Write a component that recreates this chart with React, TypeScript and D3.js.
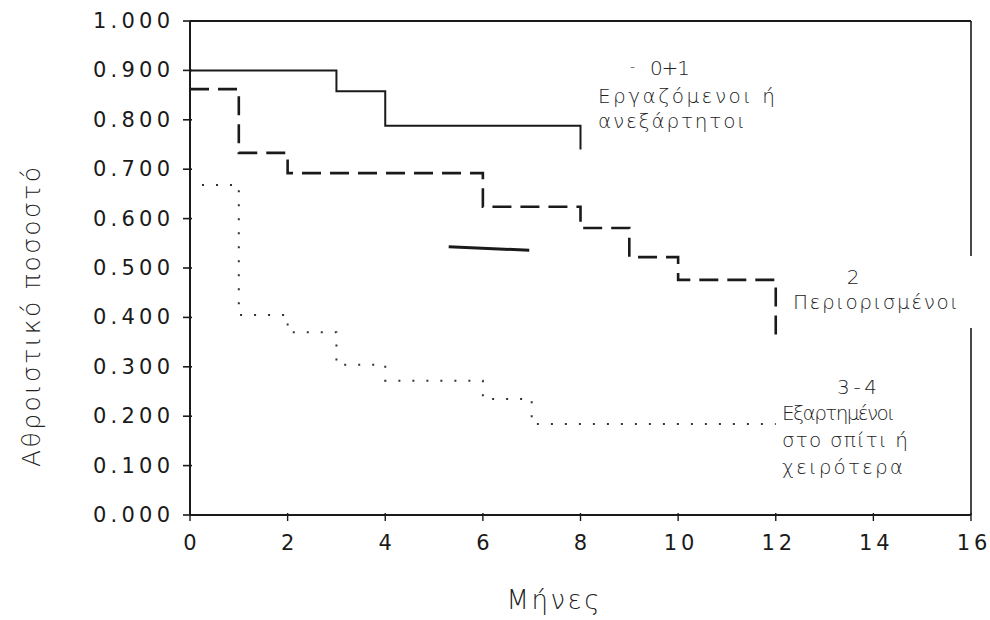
import React from "react";
import * as d3 from "d3";

// Months (x axis) ticks and cumulative proportion (y axis) ticks
const monthTicks = [0, 2, 4, 6, 8, 10, 12, 14, 16];
const propTicks = [0, 0.1, 0.2, 0.3, 0.4, 0.5, 0.6, 0.7, 0.8, 0.9, 1.0];

// Group 0+1 (solid): step times and survival values (last = end mark drop)
const g01Times = [0, 3, 4, 8, 8];
const g01Values = [0.9, 0.858, 0.788, 0.788, 0.74];

// Group 2 (dashed)
const g2Times = [0, 1, 2, 6, 8, 9, 10, 12, 12];
const g2Values = [0.862, 0.733, 0.692, 0.624, 0.581, 0.522, 0.476, 0.476, 0.355];

// Group 3-4 (dotted)
const g34Times = [0, 1, 2, 3, 4, 6, 7, 12];
const g34Values = [0.668, 0.405, 0.37, 0.304, 0.272, 0.235, 0.184, 0.184];

// Short solid stray segment in the plot
const strayTimes = [5.3, 6.95];
const strayValues = [0.543, 0.536];

const W = 990;
const H = 620;

export default function App() {
  const x = d3.scaleLinear().domain([0, 16]).range([190, 971]);
  const y = d3.scaleLinear().domain([0, 1]).range([515, 21]);

  const step = d3
    .line<[number, number]>()
    .x((d) => x(d[0]))
    .y((d) => y(d[1]))
    .curve(d3.curveStepAfter);
  const straight = d3
    .line<[number, number]>()
    .x((d) => x(d[0]))
    .y((d) => y(d[1]));

  const zip = (a: number[], b: number[]) => a.map((t, i) => [t, b[i]] as [number, number]);

  const tickFont = "'DejaVu Sans', sans-serif";
  const labelFont = "'DejaVu Sans', sans-serif";
  const ink = "#1a1a1a";

  return (
    <svg
      width={W}
      height={H}
      style={{ position: "absolute", left: 0, top: 0, background: "#fff" }}
    >
      {/* frame */}
      <line x1={x(0)} x2={x(16)} y1={y(1)} y2={y(1)} stroke={ink} strokeWidth={2} />
      <line x1={x(16)} x2={x(16)} y1={y(1)} y2={256} stroke={ink} strokeWidth={1.6} />
      <line x1={x(16)} x2={x(16)} y1={328} y2={y(0)} stroke={ink} strokeWidth={1.6} />
      {/* axes */}
      <line x1={x(0)} x2={x(0)} y1={y(1)} y2={y(0)} stroke={ink} strokeWidth={2} />
      <line x1={x(0)} x2={x(16)} y1={y(0)} y2={y(0)} stroke={ink} strokeWidth={2} />

      {/* y ticks */}
      {propTicks.map((v) => (
        <g key={"yt" + v}>
          <line x1={x(0) - 7} x2={x(0) + 2} y1={y(v)} y2={y(v)} stroke={ink} strokeWidth={1.6} />
          <text
            x={170}
            y={y(v)}
            textAnchor="end"
            dominantBaseline="central"
            fontFamily={tickFont}
            fontSize={21}
            fill={ink}
            textLength={77}
            lengthAdjust="spacing"
          >
            {v.toFixed(3)}
          </text>
        </g>
      ))}

      {/* x ticks */}
      {monthTicks.map((m) => (
        <g key={"xt" + m}>
          <line x1={x(m)} x2={x(m)} y1={y(0) - 2} y2={y(0) + 6} stroke={ink} strokeWidth={1.4} />
          <text
            x={x(m) + (m >= 10 ? 3 : 0)}
            y={543}
            textAnchor="middle"
            dominantBaseline="central"
            fontFamily={tickFont}
            fontSize={21}
            fill={ink}
            letterSpacing={m >= 10 ? 4 : 0}
          >
            {m}
          </text>
        </g>
      ))}

      {/* axis titles */}
      <text
        transform={`translate(31,317) rotate(-90)`}
        textAnchor="middle"
        dominantBaseline="central"
        fontFamily={labelFont}
        fontWeight={300}
        fontSize={25}
        fill="#222"
        textLength={300}
        lengthAdjust="spacing"
      >
        Αθροιστικό ποσοστό
      </text>
      <text
        x={553}
        y={600}
        textAnchor="middle"
        dominantBaseline="central"
        fontFamily={labelFont}
        fontWeight={300}
        fontSize={26}
        fill="#222"
        textLength={93}
        lengthAdjust="spacing"
      >
        Μήνες
      </text>

      {/* curves */}
      <path d={step(zip(g01Times, g01Values)) || ""} fill="none" stroke={ink} strokeWidth={2} />
      <path
        d={step(zip(g2Times, g2Values)) || ""}
        fill="none"
        stroke={ink}
        strokeWidth={2.6}
        strokeDasharray="19 9"
      />
      <path
        d={step(zip(g34Times, g34Values)) || ""}
        fill="none"
        stroke="#333"
        strokeWidth={2}
        strokeDasharray="2 12"
        strokeDashoffset={-12}
      />
      <path d={straight(zip(strayTimes, strayValues)) || ""} fill="none" stroke={ink} strokeWidth={3} />

      {/* group labels */}
      <g fontFamily={labelFont} fontWeight={300} fill="#222" fontSize={20}>
        <text x={630} y={66} dominantBaseline="central" fontSize={14}>-</text>
        <text x={650} y={68} dominantBaseline="central" textLength={40} lengthAdjust="spacing">0+1</text>
        <text x={598} y={96} dominantBaseline="central" textLength={177} lengthAdjust="spacing">Εργαζόμενοι ή</text>
        <text x={598} y={121} dominantBaseline="central" textLength={147} lengthAdjust="spacing">ανεξάρτητοι</text>

        <text x={853} y={277} dominantBaseline="central" textAnchor="middle">2</text>
        <text x={793} y={302} dominantBaseline="central" textLength={165} lengthAdjust="spacing">Περιορισμένοι</text>

        <text x={837} y={387} dominantBaseline="central" textLength={40} lengthAdjust="spacing">3-4</text>
        <text x={782} y={413} dominantBaseline="central" textLength={113} lengthAdjust="spacing">Εξαρτημένοι</text>
        <text x={782} y={440} dominantBaseline="central" textLength={126} lengthAdjust="spacing">στο σπίτι ή</text>
        <text x={782} y={467} dominantBaseline="central" textLength={121} lengthAdjust="spacing">χειρότερα</text>
      </g>
    </svg>
  );
}
